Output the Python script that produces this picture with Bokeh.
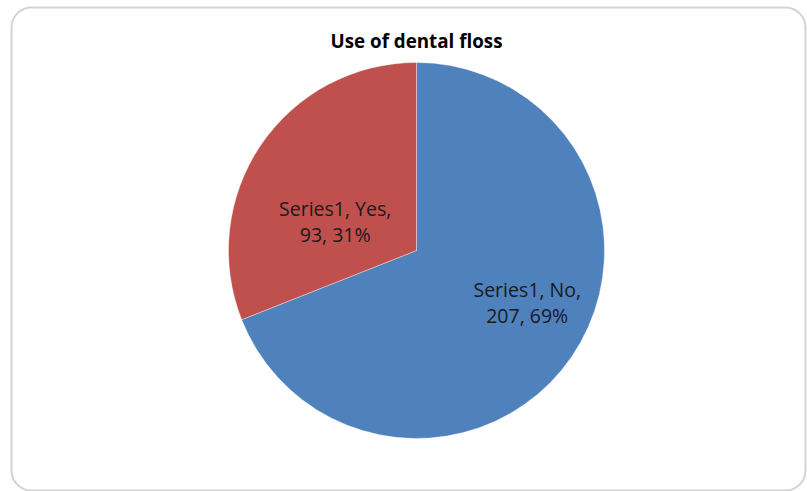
import math
from bokeh.plotting import figure
from bokeh.models import Range1d, BoxAnnotation, ColumnDataSource
from bokeh.core.properties import value
from bokeh.embed import file_html
from bokeh.resources import INLINE

# Data
categories = ["No", "Yes"]
counts = [207, 93]
series_name = "Series1"
colors = ["#4F81BD", "#C0504D"]
title_text = "Use of dental floss"

W, H = 807, 491
p = figure(width=W, height=H, output_backend="svg", toolbar_location=None,
           x_range=Range1d(0, W), y_range=Range1d(0, H), min_border=0)
p.axis.visible = False
p.grid.visible = False
p.outline_line_color = None
p.background_fill_color = "white"
p.border_fill_color = "white"

# rounded chart frame
frame = BoxAnnotation(left=11, right=805, top=H - 7, bottom=H - 490,
                      border_radius=20, fill_alpha=0,
                      line_color="#6e6e6e", line_width=2)
p.add_layout(frame)

# pie geometry
cx, cy, r = 416, H - 250, 188
total = sum(counts)
fracs = [c / total for c in counts]

starts, ends, mids = [], [], []
acc = 0.0
for f in fracs:
    # slices run clockwise from 12 o'clock
    a_end = math.pi / 2 - 2 * math.pi * acc
    a_start = math.pi / 2 - 2 * math.pi * (acc + f)
    starts.append(a_start)
    ends.append(a_end)
    mids.append((a_start + a_end) / 2)
    acc += f

src = ColumnDataSource(dict(start=starts, end=ends, color=colors))
p.wedge(x=cx, y=cy, radius=r, start_angle="start", end_angle="end",
        fill_color="color", line_color="white", line_width=0.6, line_alpha=0.6,
        source=src)

# data labels: "Series1, No,\n207, 69%"
label_shift = [0.16, 0.25]    # angular nudge (rad) for each label
label_dist = [0.65, 0.46]     # distance from centre as fraction of radius
lx, ly, lt = [], [], []
for cat, c, f, m, da, dr in zip(categories, counts, fracs, mids, label_shift, label_dist):
    a = m + da
    lx.append(cx + dr * r * math.cos(a))
    ly.append(cy + dr * r * math.sin(a))
    lt.append(f"{series_name}, {cat},\n{c}, {round(f * 100)}%")

p.text(x=lx, y=ly, text=lt, text_align="center", text_baseline="middle",
       text_font=value("Open Sans"), text_font_size="19.5px",
       text_color="#1a1a1a", text_line_height=0.97)

# chart title
p.text(x=[416], y=[H - 40], text=[title_text], text_align="center",
       text_baseline="middle", text_font=value("Open Sans"),
       text_font_size="18.8px", text_font_style="bold", text_color="#000000")

open("out.html", "w").write(file_html(p, INLINE))
